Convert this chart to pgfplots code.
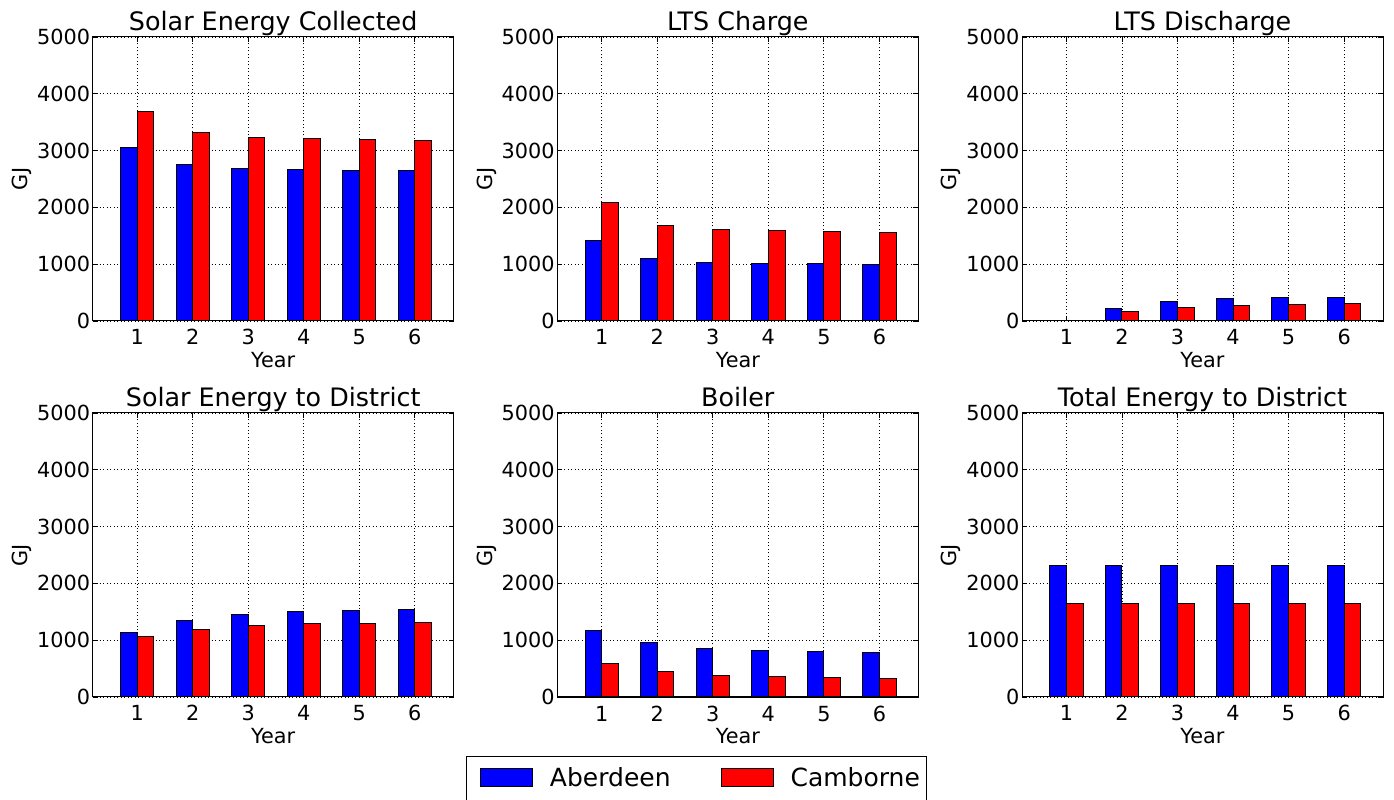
\documentclass[border=0pt]{standalone}
\usepackage{fontspec}
\setmainfont{DejaVu Sans}
\usepackage{pgfplots}
\usepackage{pgfplotstable}
\pgfplotsset{compat=1.18}

\pgfplotstableread{
yr A C
1 3047 3694
2 2759 3318
3 2682 3235
4 2659 3206
5 2653 3188
6 2647 3182
}\solar
\pgfplotstableread{
yr A C
1 1420 2083
2 1107 1686
3 1036 1604
4 1012 1586
5 1006 1574
6 1000 1562
}\charge
\pgfplotstableread{
yr A C
1 5 3
2 219 160
3 349 243
4 390 272
5 414 296
6 420 308
}\discharge
\pgfplotstableread{
yr A C
1 1135 1065
2 1353 1194
3 1459 1265
4 1506 1288
5 1524 1300
6 1535 1312
}\solardist
\pgfplotstableread{
yr A C
1 1176 582
2 953 453
3 847 382
4 812 353
5 794 341
6 776 329
}\boiler
\pgfplotstableread{
yr A C
1 2308 1643
2 2308 1643
3 2308 1643
4 2308 1643
5 2308 1643
6 2308 1643
}\total

\pgfplotsset{
  panel/.style={
    scale only axis, width=361pt, height=284pt,
    xmin=0.2, xmax=6.7, ymin=0, ymax=5000,
    xtick={1,...,6}, ytick={0,1000,...,5000},
    scaled y ticks=false,
    /pgf/number format/1000 sep={},
    /pgf/number format/assume math mode=true,
    tick align=inside, major tick length=5pt,
    tick style={black, line width=0.8pt},
    axis line style={black, line width=1pt},
    grid=major,
    grid style={black, line width=0.8pt, dash pattern=on 1pt off 2.5pt},
    ticklabel style={font=\fontsize{20.8}{24}\selectfont},
    xticklabel style={anchor=base, yshift=-24pt},
    yticklabel style={anchor=east, inner xsep=2.5pt},
    title style={font=\fontsize{25.4}{29}\selectfont, anchor=base, at={(axis description cs:0.5,1)}, yshift=0pt},
    xlabel={Year},
    xlabel style={font=\fontsize{20.8}{24}\selectfont, at={(axis description cs:0.5,-0.162)}, anchor=base},
    ylabel={GJ},
    ylabel style={font=\fontsize{20.8}{24}\selectfont, at={(axis description cs:-0.196,0.5)}, anchor=center},
  },
  barA/.style={ybar, bar width=0.3, bar shift=-0.15, fill=blue, draw=black, line width=1pt,
    legend image code/.code={\path (-7pt,-40pt) (0pt,0pt);\draw[fill=blue, draw=black, line width=0.8pt] (0pt,-9pt) rectangle (52pt,9pt);}},
  barC/.style={ybar, bar width=0.3, bar shift=0.15, fill=red, draw=black, line width=1pt,
    legend image code/.code={\path (-7pt,-40pt) (0pt,0pt);\draw[fill=red, draw=black, line width=0.8pt] (0pt,-9pt) rectangle (52pt,9pt);}},
}

\begin{document}
\begin{tikzpicture}
\useasboundingbox (0pt,0pt) rectangle (1394pt,800pt);

\begin{axis}[panel, at={(92.7pt,479pt)}, anchor=south west, title={Solar Energy Collected}]
\addplot[barA] table[x=yr,y=A]{\solar};
\addplot[barC] table[x=yr,y=C]{\solar};
\end{axis}

\begin{axis}[panel, at={(557.3pt,479pt)}, anchor=south west, title={LTS Charge}]
\addplot[barA] table[x=yr,y=A]{\charge};
\addplot[barC] table[x=yr,y=C]{\charge};
\end{axis}

\begin{axis}[panel, at={(1022pt,479pt)}, anchor=south west, title={LTS Discharge}]
\addplot[barA] table[x=yr,y=A]{\discharge};
\addplot[barC] table[x=yr,y=C]{\discharge};
\end{axis}

\begin{axis}[panel, at={(92.7pt,103pt)}, anchor=south west, title={Solar Energy to District}]
\addplot[barA] table[x=yr,y=A]{\solardist};
\addplot[barC] table[x=yr,y=C]{\solardist};
\end{axis}

\begin{axis}[panel, at={(557.3pt,103pt)}, anchor=south west, title={Boiler},
  legend columns=2,
  legend style={at={(axis description cs:0.3856,-0.2077)}, anchor=north,
    draw=black, line width=1pt, inner xsep=7pt, inner ysep=11pt,
    font=\fontsize{25}{29}\selectfont,
    /tikz/every odd column/.append style={column sep=17pt},
    /tikz/every even column/.append style={column sep=43pt},
    nodes={inner xsep=0pt, inner ysep=0pt}},
  legend cell align=left]
\addplot[barA] table[x=yr,y=A]{\boiler};
\addplot[barC] table[x=yr,y=C]{\boiler};
\legend{Aberdeen, Camborne}
\end{axis}

\begin{axis}[panel, at={(1022pt,103pt)}, anchor=south west, title={Total Energy to District}]
\addplot[barA] table[x=yr,y=A]{\total};
\addplot[barC] table[x=yr,y=C]{\total};
\end{axis}
\end{tikzpicture}
\end{document}
